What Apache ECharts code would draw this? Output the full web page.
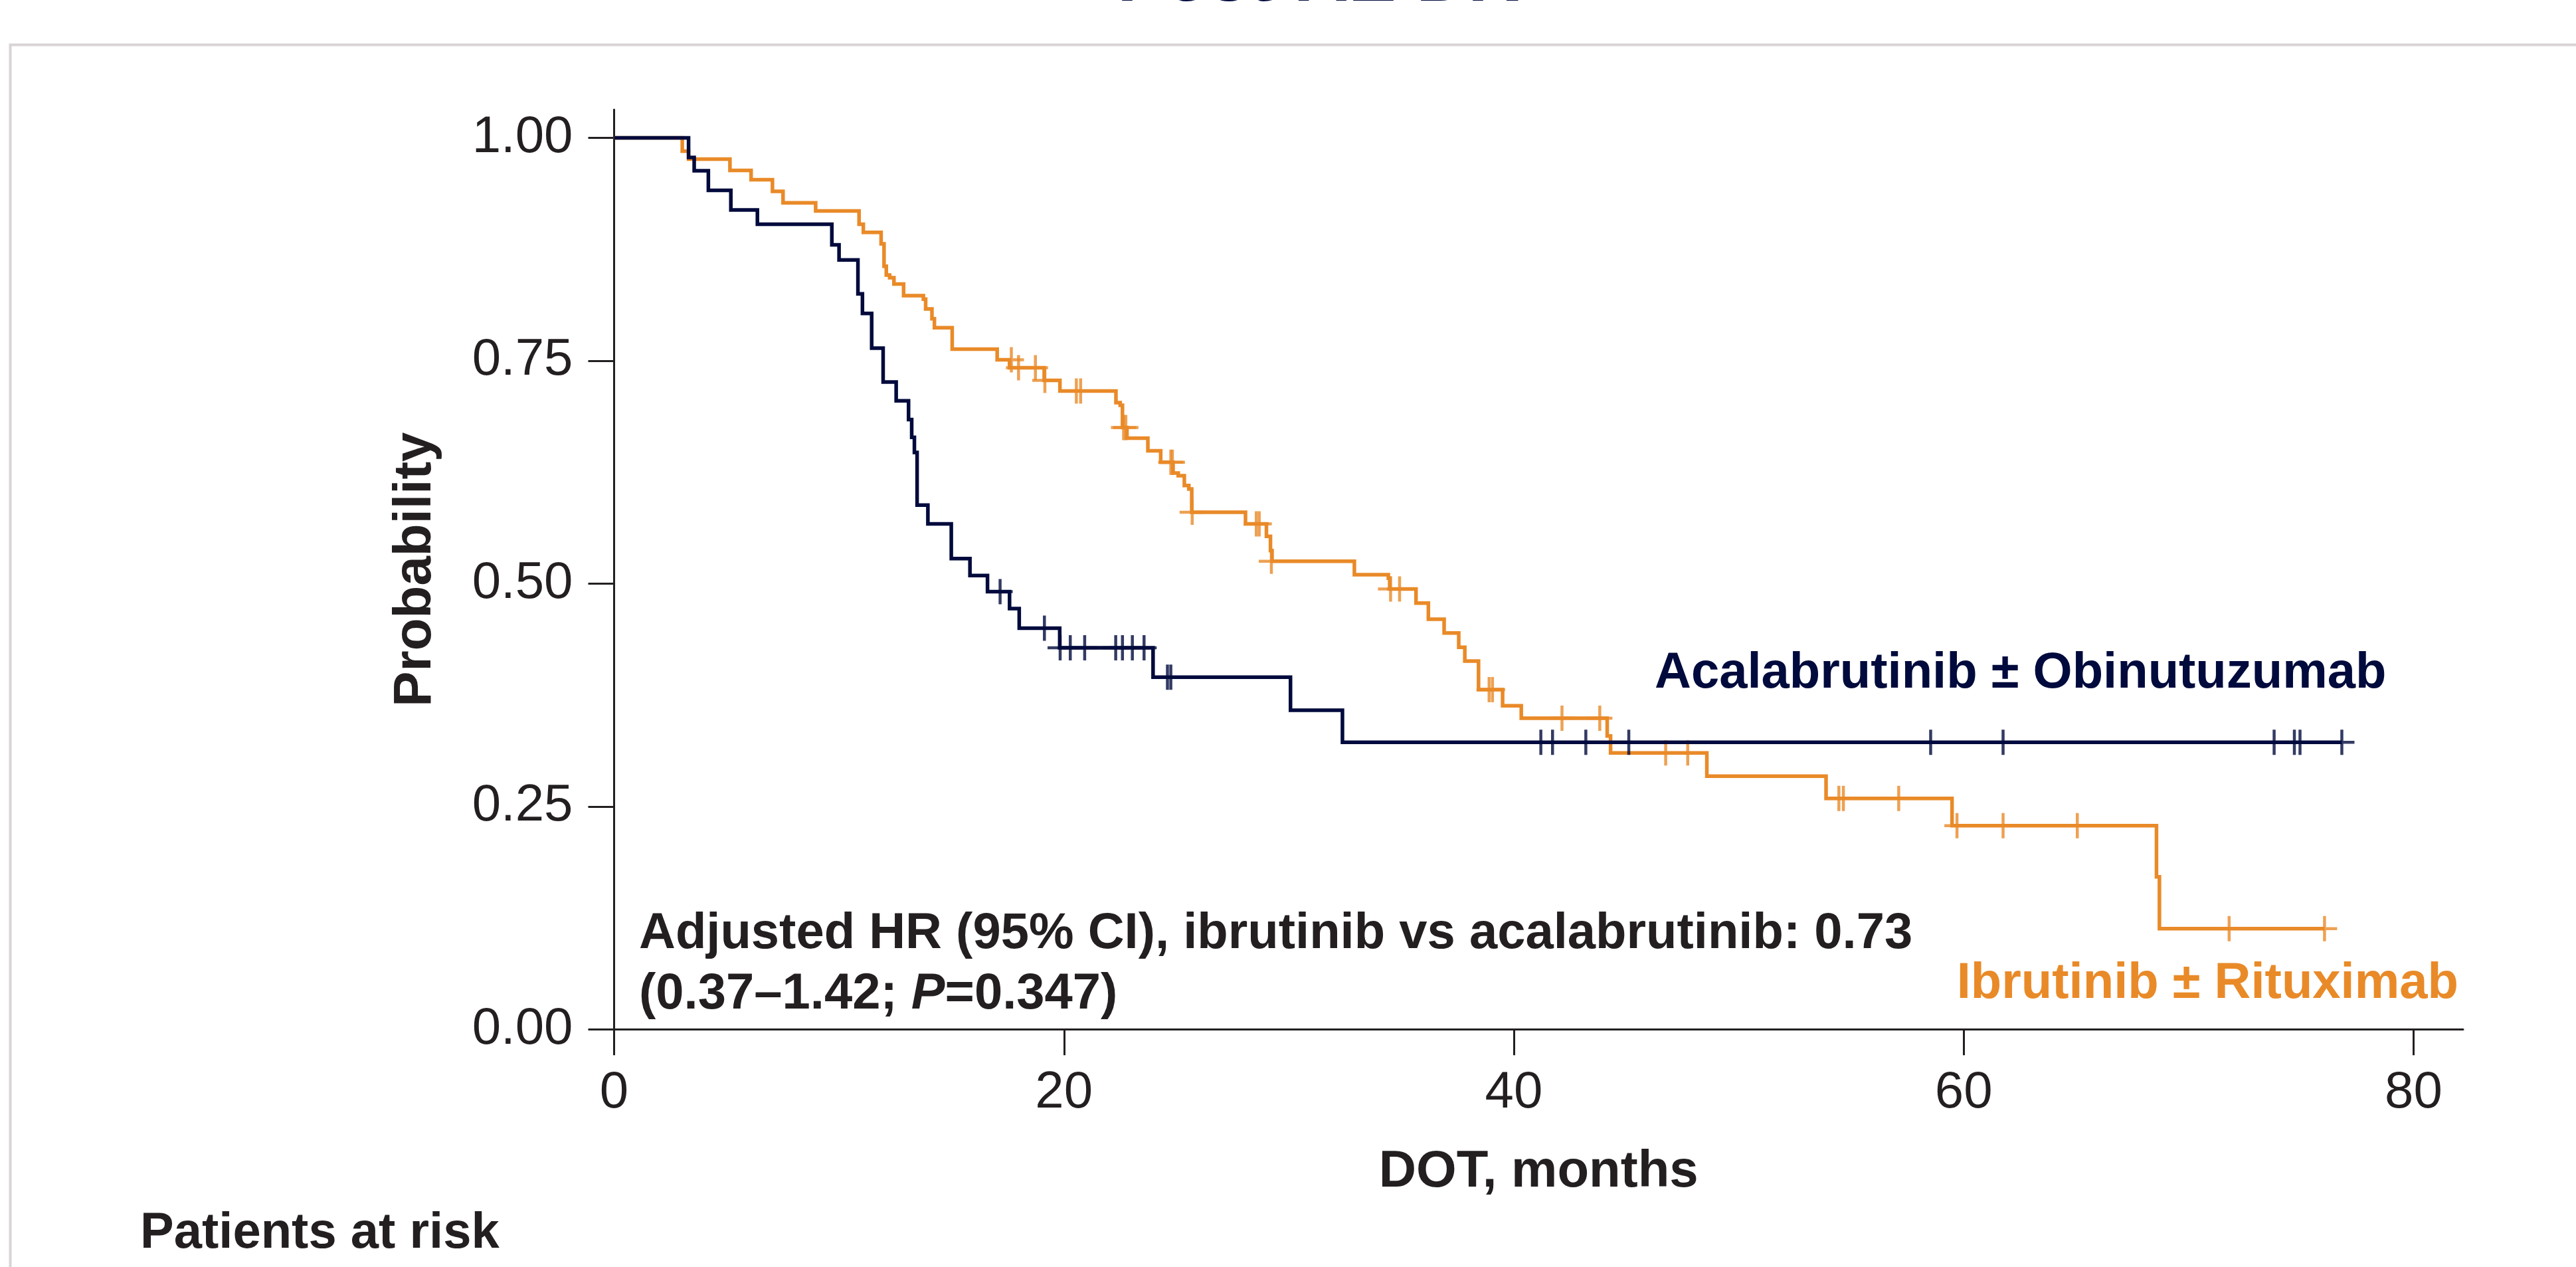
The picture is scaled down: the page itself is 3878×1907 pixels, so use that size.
<!DOCTYPE html>
<html>
<head>
<meta charset="utf-8">
<script src="https://cdn.jsdelivr.net/npm/echarts@6/dist/echarts.min.js"></script>
<style>
html,body{margin:0;padding:0;background:#ffffff;}
#chart{width:3878px;height:1907px;}
</style>
</head>
<body>
<div id="chart"></div>
<script>
// ---- Data ----
// Acalabrutinib ± Obinutuzumab: step times (months) and survival after each step
const acalaTimes = [0, 3.31, 3.56, 4.19, 5.19, 6.37, 9.68, 10.0, 10.84, 11.04, 11.45, 11.96, 12.54, 13.09, 13.23, 13.35, 13.47, 13.95, 14.99, 15.82, 16.6, 17.58, 18.01, 19.81, 23.96, 30.07, 32.38, 76.81];
const acalaSurv  = [1.0, 0.978, 0.963, 0.941, 0.919, 0.903, 0.880, 0.863, 0.825, 0.803, 0.764, 0.726, 0.705, 0.684, 0.664, 0.647, 0.588, 0.567, 0.528, 0.509, 0.491, 0.472, 0.450, 0.428, 0.395, 0.358, 0.322, 0.322];
const acalaCensorTimes = [17.16, 19.13, 19.83, 20.28, 20.92, 22.3, 22.6, 23.04, 23.56, 24.6, 24.75, 41.2, 41.72, 43.2, 45.11, 58.53, 61.75, 73.8, 74.7, 74.95, 76.81];
const acalaCensorSurv  = [0.491, 0.450, 0.428, 0.428, 0.428, 0.428, 0.428, 0.428, 0.428, 0.395, 0.395, 0.322, 0.322, 0.322, 0.322, 0.322, 0.322, 0.322, 0.322, 0.322, 0.322];

// Ibrutinib ± Rituximab
const ibruTimes = [0, 3.03, 3.31, 5.15, 6.09, 7.04, 7.51, 8.96, 10.89, 11.08, 11.87, 12.0, 12.1, 12.25, 12.44, 12.87, 13.75, 13.85, 14.13, 14.24, 15.03, 17.03, 17.58, 19.12, 19.82, 22.31, 22.5, 22.6, 22.8, 23.73, 24.3, 24.85, 25.08, 25.35, 25.55, 25.68, 28.07, 29.0, 29.18, 29.25, 32.91, 34.42, 34.48, 35.65, 36.2, 36.9, 37.55, 37.82, 38.43, 39.5, 40.33, 44.15, 44.3, 48.58, 53.88, 59.48, 68.57, 68.7, 76.04];
const ibruSurv  = [1.0, 0.985, 0.976, 0.9635, 0.953, 0.940, 0.927, 0.918, 0.903, 0.894, 0.881, 0.856, 0.846, 0.843, 0.836, 0.823, 0.819, 0.808, 0.797, 0.787, 0.763, 0.751, 0.742, 0.728, 0.716, 0.703, 0.700, 0.675, 0.663, 0.649, 0.636, 0.624, 0.621, 0.610, 0.606, 0.580, 0.567, 0.553, 0.537, 0.525, 0.510, 0.506, 0.494, 0.478, 0.460, 0.4445, 0.4285, 0.413, 0.381, 0.363, 0.349, 0.329, 0.310, 0.284, 0.259, 0.2285, 0.171, 0.113, 0.113];
const ibruCensorTimes = [17.66, 17.98, 18.73, 19.15, 20.55, 20.74, 22.65, 22.75, 24.75, 24.82, 25.7, 28.55, 28.68, 29.22, 34.52, 34.92, 38.9, 39.05, 42.14, 43.82, 46.75, 47.73, 54.45, 54.65, 57.11, 59.7, 61.75, 65.05, 71.8, 76.04];
const ibruCensorSurv  = [0.751, 0.742, 0.742, 0.728, 0.716, 0.716, 0.675, 0.675, 0.636, 0.636, 0.580, 0.567, 0.567, 0.525, 0.494, 0.494, 0.381, 0.381, 0.349, 0.349, 0.310, 0.310, 0.259, 0.259, 0.259, 0.2285, 0.2285, 0.2285, 0.113, 0.113];

// Axis ticks
const xTicks = [0, 20, 40, 60, 80];
const yTicks = [0, 0.25, 0.5, 0.75, 1.0];

// Texts
const titleText = 'Post-AE DR';
const acalaLabel = 'Acalabrutinib \u00b1 Obinutuzumab';
const ibruLabel = 'Ibrutinib \u00b1 Rituximab';
const hrLine1 = 'Adjusted HR (95% CI), ibrutinib vs acalabrutinib: 0.73';
const hrLine2 = '(0.37\u20131.42; {i|P}=0.347)';
const riskLabel = 'Patients at risk';
const xName = 'DOT, months';
const yName = 'Probability';

// ---- Styles ----
const NAVY = '#000a3c';
const ORANGE = '#e98a28';
const INK = '#231f20';
const FONT = '"Liberation Sans", Arial, Helvetica, sans-serif';

const zip = (a, b) => a.map((v, i) => [v, b[i]]);
const cross = 'path://M10,0L10,20M0,10L20,10';

function txt(text, x, y, color, align, size, extra) {
  return {
    type: 'text', x: x, y: y, silent: true, z: 10,
    style: Object.assign({
      text: text,
      fill: color,
      fontFamily: FONT,
      fontWeight: 'bold',
      fontSize: size,
      align: align, textAlign: align,
      verticalAlign: 'middle', textVerticalAlign: 'middle'
    }, extra || {})
  };
}

const chart = echarts.init(document.getElementById('chart'), null, {renderer: 'canvas'});
chart.setOption({
  animation: false,
  backgroundColor: '#ffffff',
  grid: {left: 924.5, right: 170, top: 165, bottom: 357.7, containLabel: false, outerBoundsMode: 'none'},
  xAxis: {
    type: 'value', min: 0, max: 82.2,
    name: xName, nameLocation: 'middle', nameGap: 176,
    nameTextStyle: {fontFamily: FONT, fontWeight: 'bold', fontSize: 78, color: INK},
    axisLine: {show: true, onZero: false, lineStyle: {color: INK, width: 3}},
    axisTick: {show: true, length: 39, lineStyle: {color: INK, width: 3}, customValues: xTicks},
    axisLabel: {show: true, margin: 57, fontFamily: FONT, fontSize: 78, color: INK, customValues: xTicks,
      formatter: v => String(v)},
    splitLine: {show: false}
  },
  yAxis: {
    type: 'value', min: 0, max: 1.0316,
    name: yName, nameLocation: 'middle', nameGap: 259,
    nameTextStyle: {fontFamily: FONT, fontWeight: 'bold', fontSize: 80, color: INK},
    axisLine: {show: true, onZero: false, lineStyle: {color: INK, width: 3}},
    axisTick: {show: true, length: 39, lineStyle: {color: INK, width: 3}, customValues: yTicks},
    axisLabel: {show: true, margin: 62, fontFamily: FONT, fontSize: 78, color: INK, customValues: yTicks,
      padding: [0, 0, 8, 0],
      formatter: v => Number(v).toFixed(2)},
    splitLine: {show: false}
  },
  series: [
    {
      name: ibruLabel, type: 'line', step: 'end', data: zip(ibruTimes, ibruSurv),
      symbol: 'none', showSymbol: false, silent: true, z: 2,
      lineStyle: {color: ORANGE, width: 5.5, join: 'miter', cap: 'butt'}
    },
    {
      name: ibruLabel + ' censored', type: 'scatter', data: zip(ibruCensorTimes, ibruCensorSurv),
      symbol: cross, symbolSize: 38, silent: true, z: 3,
      itemStyle: {color: 'none', borderColor: ORANGE, borderWidth: 4.5}
    },
    {
      name: acalaLabel, type: 'line', step: 'end', data: zip(acalaTimes, acalaSurv),
      symbol: 'none', showSymbol: false, silent: true, z: 4,
      lineStyle: {color: NAVY, width: 5.5, join: 'miter', cap: 'butt'}
    },
    {
      name: acalaLabel + ' censored', type: 'scatter', data: zip(acalaCensorTimes, acalaCensorSurv),
      symbol: cross, symbolSize: 38, silent: true, z: 5,
      itemStyle: {color: 'none', borderColor: NAVY, borderWidth: 4.5}
    }
  ],
  graphic: {
    elements: [
      {type: 'rect', silent: true, z: 0, shape: {x: 15.5, y: 67.5, width: 5000, height: 3000},
       style: {fill: 'none', stroke: '#d9d4d6', lineWidth: 4}},
      txt(titleText, 1985, -29, NAVY, 'center', 108),
      txt(acalaLabel, 2491, 1014, NAVY, 'left', 76),
      txt(ibruLabel, 3701, 1481, ORANGE, 'right', 76),
      txt(hrLine1, 962, 1406, INK, 'left', 76),
      txt(hrLine2, 962, 1497, INK, 'left', 76, {
        rich: {i: {fontFamily: FONT, fontWeight: 'bold', fontStyle: 'italic', fontSize: 76, fill: INK, color: INK}}
      }),
      txt(riskLabel, 211, 1857, INK, 'left', 76)
    ]
  }
});
</script>
</body>
</html>
